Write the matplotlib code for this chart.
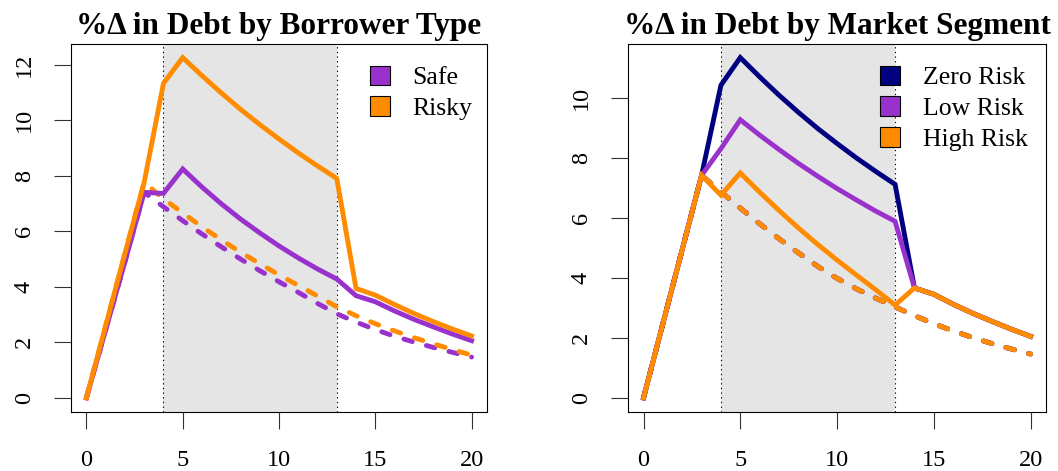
import matplotlib; matplotlib.use("Agg")
import matplotlib.pyplot as plt
from matplotlib.patches import Patch

PURPLE = "#9932CC"; ORANGE = "#FF8C00"; NAVY = "#000080"; SHADE = "#E5E5E5"
plt.rcParams.update({"font.family": ["Liberation Serif", "DejaVu Serif"], "font.size": 17.5})

periods = list(range(21))
shock_start, shock_end = 4, 13

# left panel: borrower type
safe_shock = [0, 2.45, 4.90, 7.40, 7.36, 8.24, 7.59, 6.99, 6.44, 5.94, 5.47,
              5.04, 4.64, 4.28, 3.68, 3.46, 3.13, 2.83, 2.56, 2.30, 2.06]
risky_shock = [0, 2.60, 5.20, 7.76, 11.32, 12.25, 11.60, 10.98, 10.39, 9.84, 9.32,
               8.82, 8.35, 7.90, 3.94, 3.70, 3.36, 3.04, 2.75, 2.48, 2.23]
safe_base = [0, 2.45, 4.90, 7.40, 6.88, 6.38, 5.90, 5.44, 5.00, 4.58, 4.18,
             3.80, 3.40, 3.03, 2.73, 2.46, 2.22, 2.01, 1.82, 1.64, 1.47]
risky_base = [0, 2.60, 5.20, 7.76, 7.17, 6.66, 6.16, 5.69, 5.25, 4.83, 4.43,
              4.05, 3.67, 3.28, 2.96, 2.67, 2.41, 2.17, 1.95, 1.74, 1.54]

# right panel: market segment
zero_shock = [0, 2.47, 4.94, 7.41, 10.41, 11.33, 10.69, 10.08, 9.51, 8.97, 8.47,
              7.99, 7.54, 7.11, 3.66, 3.45, 3.12, 2.82, 2.55, 2.29, 2.05]
low_shock = [0, 2.47, 4.94, 7.41, 8.30, 9.26, 8.75, 8.27, 7.81, 7.38, 6.97,
             6.59, 6.22, 5.88, 3.66, 3.45, 3.12, 2.82, 2.55, 2.29, 2.05]
high_shock = [0, 2.47, 4.94, 7.41, 6.75, 7.49, 6.85, 6.24, 5.66, 5.11, 4.59,
              4.09, 3.60, 3.09, 3.66, 3.45, 3.12, 2.82, 2.55, 2.29, 2.05]
segment_base = [0, 2.47, 4.94, 7.41, 6.86, 6.32, 5.80, 5.30, 4.83, 4.38, 3.98,
                3.63, 3.32, 3.03, 2.74, 2.47, 2.23, 2.01, 1.81, 1.63, 1.46]

fig = plt.figure(figsize=(10.58, 4.71), dpi=100)
axL = fig.add_axes([0.0671, 0.1263, 0.3932, 0.7803])
axR = fig.add_axes([0.5936, 0.1263, 0.3951, 0.7803])

DASH = (0, (1.8, 3.0))
LW = 3.5

def panel(ax, title, solids, bases, yticks, leg_anchor):
    ax.axvspan(shock_start, shock_end, color=SHADE, lw=0, zorder=0)
    for xv in (shock_start, shock_end):
        ax.axvline(xv, color="black", lw=0.8, ls=(0, (1.2, 3)), zorder=1)
    for vals, c in bases:
        ax.plot(periods, vals, color=c, lw=LW, ls=DASH, dash_capstyle="round", zorder=2)
    for vals, c, _ in solids:
        ax.plot(periods, vals, color=c, lw=LW, solid_joinstyle="miter", zorder=3)
    ax.margins(x=0.04, y=0.04)
    ax.set_xticks([0, 5, 10, 15, 20])
    ax.set_yticks(yticks)
    ax.tick_params(axis="both", length=12, width=0.8, color="#333333")
    ax.tick_params(axis="x", pad=16)
    ax.tick_params(axis="y", pad=14)
    for lab in ax.get_yticklabels():
        lab.set_rotation(90); lab.set_va("center")
    for s in ax.spines.values():
        s.set_linewidth(0.8); s.set_zorder(5)
    ax.set_title(title, fontsize=22.5, fontweight="bold", pad=7)
    handles = [Patch(facecolor=c, edgecolor="black", lw=0.8, label=l) for _, c, l in solids]
    ax.legend(handles=handles, loc="upper right", bbox_to_anchor=leg_anchor, frameon=False,
              handlelength=0.78, handleheight=0.78, handletextpad=0.88, labelspacing=0.28,
              borderaxespad=0, fontsize=18.5)

panel(axL, "%Δ in Debt by Borrower Type",
      [(safe_shock, PURPLE, "Safe"), (risky_shock, ORANGE, "Risky")],
      [(safe_base, PURPLE), (risky_base, ORANGE)],
      [0, 2, 4, 6, 8, 10, 12], (0.990, 0.969))
panel(axR, "%Δ in Debt by Market Segment",
      [(zero_shock, NAVY, "Zero Risk"), (low_shock, PURPLE, "Low Risk"), (high_shock, ORANGE, "High Risk")],
      [(segment_base, NAVY), (segment_base, PURPLE), (segment_base, ORANGE)],
      [0, 2, 4, 6, 8, 10], (0.980, 0.969))

fig.savefig("out.png", dpi=100)
